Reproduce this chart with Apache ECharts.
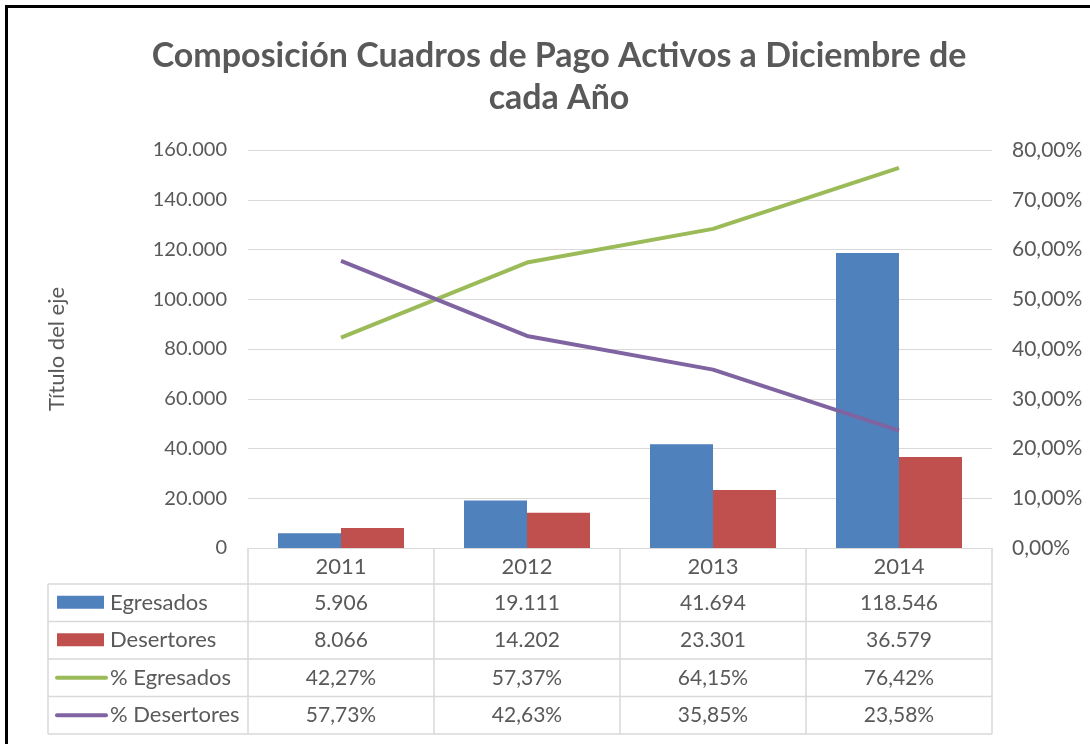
<!DOCTYPE html>
<html>
<head>
<meta charset="utf-8">
<script src="https://cdn.jsdelivr.net/npm/echarts@6/dist/echarts.min.js"></script>
<style>
    body { margin: 0; background: #fff; }
    #main { width: 1090px; height: 744px; }
</style>
</head>
<body>
<div id="main"></div>
<script>
// datos
var years = ['2011', '2012', '2013', '2014'];
var egresados = [5906, 19111, 41694, 118546];
var desertores = [8066, 14202, 23301, 36579];
var pctEgresados = [42.27, 57.37, 64.15, 76.42];
var pctDesertores = [57.73, 42.63, 35.85, 23.58];
var seriesNames = ['Egresados', 'Desertores', '% Egresados', '% Desertores'];
var colors = ['#4f81bd', '#c0504d', '#9bbb59', '#8064a2'];

var textColor = '#595959';
var gridColor = '#d9d9d9';
var font = 'Lato, "Open Sans", sans-serif';

function miles(v) {
    return String(v).replace(/\B(?=(\d{3})+(?!\d))/g, '.');
}
function pct(v) {
    return v.toFixed(2).replace('.', ',') + '%';
}

var chartDom = document.getElementById('main');
var myChart = echarts.init(chartDom);
var option;

var gridLeft = 248, gridRight = 98, gridTop = 150, gridBottom = 196;

option = {
    animation: false,
    textStyle: { fontFamily: font },
    title: {
        text: 'Composición Cuadros de Pago Activos a Diciembre de\ncada Año',
        left: 554,
        top: 30,
        textAlign: 'center',
        textStyle: {
            fontFamily: font,
            fontSize: 34,
            fontWeight: 'bold',
            color: textColor,
            lineHeight: 42
        }
    },
    grid: {
        left: gridLeft,
        right: gridRight,
        top: gridTop,
        bottom: gridBottom
    },
    xAxis: {
        type: 'category',
        data: years,
        axisLine: { lineStyle: { color: gridColor, width: 1 } },
        axisTick: { show: false },
        axisLabel: { color: textColor, fontSize: 22, margin: 8 }
    },
    yAxis: [
        {
            type: 'value',
            min: 0,
            max: 160000,
            interval: 20000,
            name: 'Título del eje',
            nameLocation: 'middle',
            nameGap: 180,
            nameTextStyle: { color: textColor, fontSize: 22 },
            axisLabel: {
                color: textColor,
                fontSize: 20,
                margin: 21,
                formatter: function (v) { return miles(v); }
            },
            splitLine: { lineStyle: { color: gridColor } }
        },
        {
            type: 'value',
            min: 0,
            max: 80,
            interval: 10,
            position: 'right',
            axisLabel: {
                color: textColor,
                fontSize: 21,
                margin: 20,
                formatter: function (v) { return pct(v); }
            },
            splitLine: { show: false }
        }
    ],
    series: [
        {
            name: seriesNames[0],
            type: 'bar',
            data: egresados,
            barWidth: 63,
            barGap: '0%',
            itemStyle: { color: colors[0] }
        },
        {
            name: seriesNames[1],
            type: 'bar',
            data: desertores,
            barWidth: 63,
            barGap: '0%',
            itemStyle: { color: colors[1] }
        },
        {
            name: seriesNames[2],
            type: 'line',
            yAxisIndex: 1,
            data: pctEgresados,
            symbol: 'none',
            lineStyle: { color: colors[2], width: 4 },
            itemStyle: { color: colors[2] }
        },
        {
            name: seriesNames[3],
            type: 'line',
            yAxisIndex: 1,
            data: pctDesertores,
            symbol: 'none',
            lineStyle: { color: colors[3], width: 4 },
            itemStyle: { color: colors[3] }
        }
    ]
};

myChart.setOption(option);

// tabla de datos bajo el eje
function tabla() {
    var c0 = myChart.convertToPixel({ xAxisIndex: 0 }, years[0]);
    var c1 = myChart.convertToPixel({ xAxisIndex: 0 }, years[1]);
    var half = (c1 - c0) / 2;
    var top = myChart.convertToPixel({ yAxisIndex: 0 }, 0);
    var headH = 36, rowH = 37.5;
    var tableLeft = 48;
    var plotRight = 1090 - gridRight;
    var rows = [
        egresados.map(miles),
        desertores.map(miles),
        pctEgresados.map(pct),
        pctDesertores.map(pct)
    ];
    var els = [];
    var lineSt = { stroke: gridColor, lineWidth: 1.5 };

    // marco negro
    els.push({ type: 'line', shape: { x1: 6.5, y1: 5, x2: 6.5, y2: 744 }, style: { stroke: '#000', lineWidth: 3 } });
    els.push({ type: 'line', shape: { x1: 5, y1: 6.5, x2: 1090, y2: 6.5 }, style: { stroke: '#000', lineWidth: 3 } });

    var bottom = top + headH + rows.length * rowH;
    // verticales
    years.forEach(function (y, i) {
        var cx = myChart.convertToPixel({ xAxisIndex: 0 }, y);
        els.push({ type: 'line', shape: { x1: cx - half, y1: top, x2: cx - half, y2: bottom }, style: lineSt });
        if (i === years.length - 1) {
            els.push({ type: 'line', shape: { x1: cx + half, y1: top, x2: cx + half, y2: bottom }, style: lineSt });
        }
    });
    els.push({ type: 'line', shape: { x1: tableLeft, y1: top + headH, x2: tableLeft, y2: bottom }, style: lineSt });
    // horizontales
    for (var r = 0; r <= rows.length; r++) {
        var yy = top + headH + r * rowH;
        els.push({ type: 'line', shape: { x1: tableLeft, y1: yy, x2: plotRight, y2: yy }, style: lineSt });
    }
    // filas
    rows.forEach(function (row, r) {
        var cy = top + headH + r * rowH + rowH / 2;
        if (r < 2) {
            els.push({ type: 'rect', shape: { x: tableLeft + 9, y: cy - 7, width: 47, height: 13 }, style: { fill: colors[r] } });
        } else {
            els.push({ type: 'line', shape: { x1: tableLeft + 9, y1: cy, x2: tableLeft + 58, y2: cy }, style: { stroke: colors[r], lineWidth: 4, lineCap: 'round' } });
        }
        els.push({
            type: 'text',
            x: tableLeft + 62, y: cy,
            style: { text: seriesNames[r], fill: textColor, font: '22px ' + font, textVerticalAlign: 'middle', textAlign: 'left' }
        });
        row.forEach(function (txt, i) {
            var cx = myChart.convertToPixel({ xAxisIndex: 0 }, years[i]);
            els.push({
                type: 'text',
                x: cx, y: cy,
                style: { text: txt, fill: textColor, font: '21px ' + font, textVerticalAlign: 'middle', textAlign: 'center' }
            });
        });
    });
    myChart.setOption({ graphic: els });
}
tabla();
</script>
</body>
</html>
